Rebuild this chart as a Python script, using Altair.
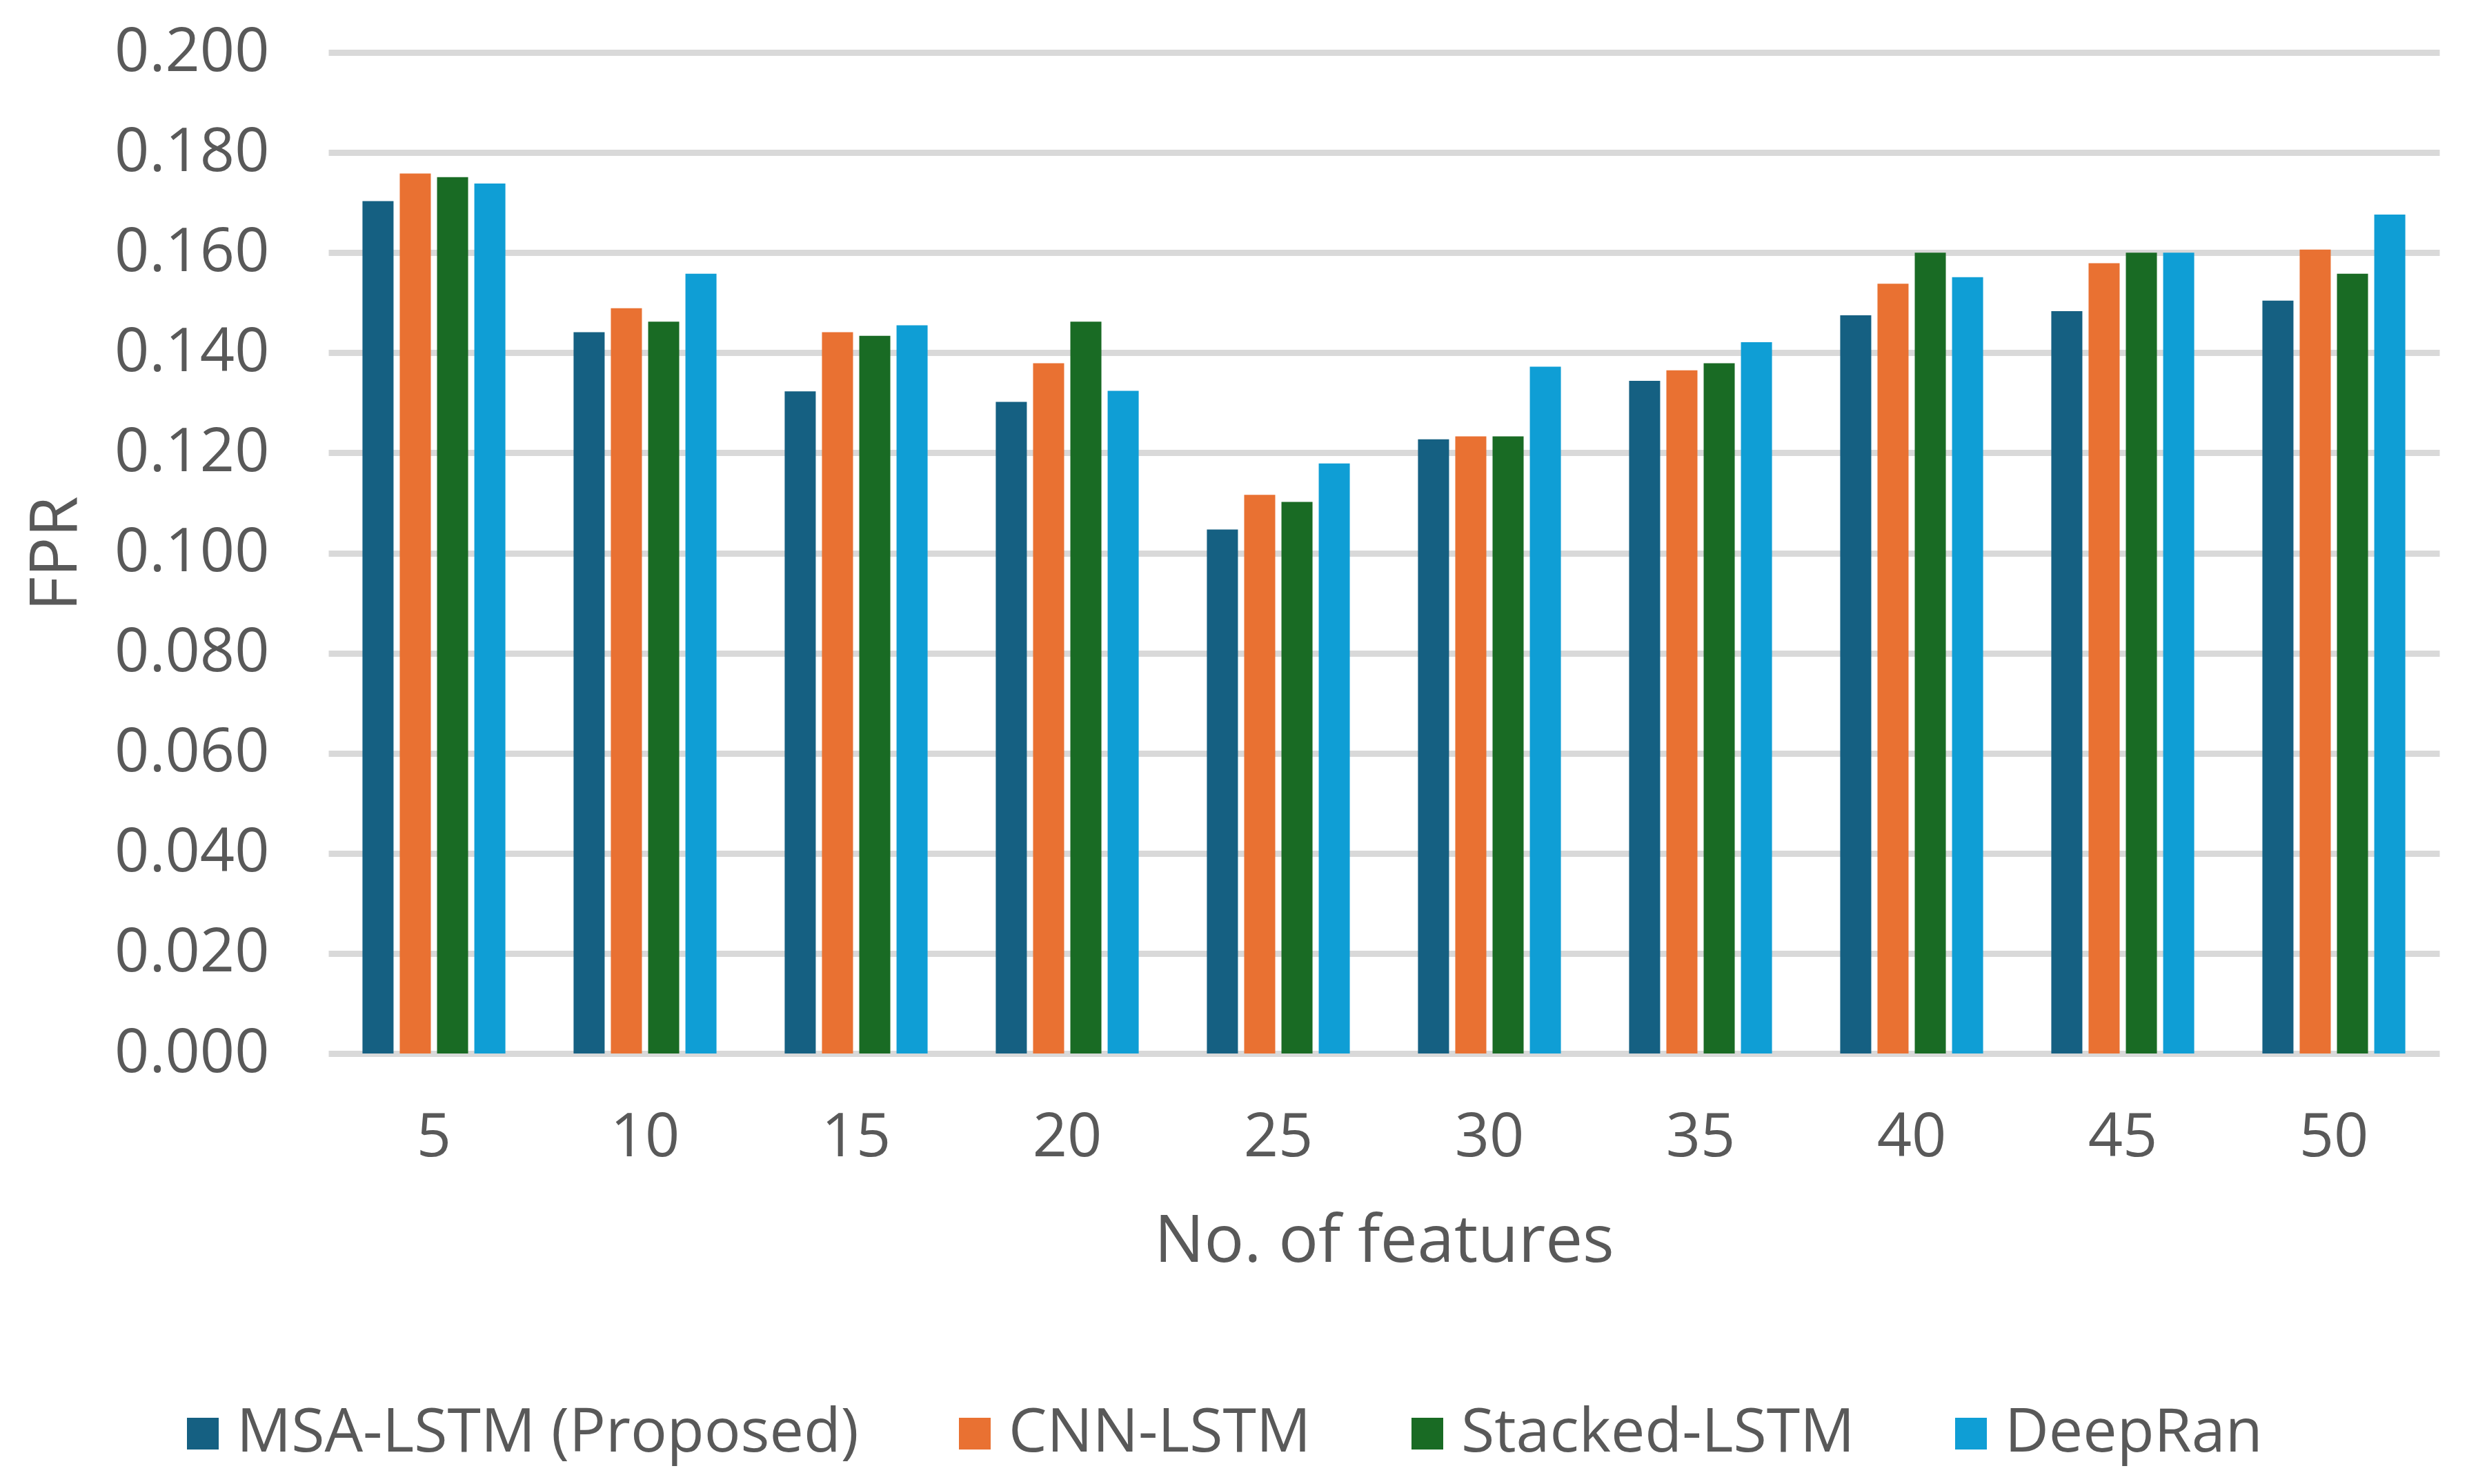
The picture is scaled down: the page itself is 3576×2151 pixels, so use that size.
import altair as alt
import pandas as pd

features = ["5", "10", "15", "20", "25", "30", "35", "40", "45", "50"]
models = ["MSA-LSTM (Proposed)", "CNN-LSTM", "Stacked-LSTM", "DeepRan"]
colors = ["#156082", "#E97132", "#196B24", "#0F9ED5"]

msa = [0.1703, 0.1441, 0.1323, 0.1302, 0.1047, 0.1227, 0.1344, 0.1475, 0.1483, 0.1504]
cnn = [0.1758, 0.1489, 0.1441, 0.1379, 0.1116, 0.1233, 0.1365, 0.1538, 0.1579, 0.1606]
stacked = [0.1751, 0.1462, 0.1434, 0.1462, 0.1102, 0.1233, 0.1379, 0.1600, 0.1600, 0.1558]
deepran = [0.1738, 0.1558, 0.1455, 0.1324, 0.1179, 0.1372, 0.1421, 0.1551, 0.1600, 0.1676]

y_ticks = [0.0, 0.02, 0.04, 0.06, 0.08, 0.10, 0.12, 0.14, 0.16, 0.18, 0.20]

rows = []
for name, vals in zip(models, [msa, cnn, stacked, deepran]):
    for f, v in zip(features, vals):
        rows.append({"features": f, "model": name, "FPR": v})
df = pd.DataFrame(rows)

FONT = "Open Sans"
TXT = "#595959"

chart = alt.Chart(df).mark_bar().encode(
    x=alt.X(
        "features:N",
        sort=features,
        scale=alt.Scale(paddingInner=0.323, paddingOuter=0.1615),
        axis=alt.Axis(
            title="No. of features",
            labelAngle=0,
            ticks=False,
            tickSize=0,
            domain=False,
            grid=False,
            labelPadding=78,
            labelFontSize=88,
            labelFont=FONT,
            labelColor=TXT,
            titleFont=FONT,
            titleFontSize=96,
            titleFontWeight="normal",
            titleColor=TXT,
            titleBaseline="alphabetic",
            titleY=301,
        ),
    ),
    xOffset=alt.XOffset("model:N", sort=models,
                        scale=alt.Scale(paddingInner=0.167, paddingOuter=0)),
    y=alt.Y(
        "FPR:Q",
        scale=alt.Scale(domain=[0, 0.2], nice=False),
        axis=alt.Axis(
            title="FPR",
            values=y_ticks,
            format=".3f",
            grid=True,
            gridColor="#D9D9D9",
            gridWidth=9,
            domain=False,
            ticks=False,
            tickSize=0,
            labelPadding=86,
            labelFontSize=88,
            labelFont=FONT,
            labelColor=TXT,
            labelLimit=1000,
            titleFont=FONT,
            titleFontSize=96,
            titleFontWeight="normal",
            titleColor=TXT,
            titleAngle=270,
            titleBaseline="alphabetic",
            titleX=-366,
            titleY=726,
        ),
    ),
    color=alt.Color(
        "model:N",
        sort=models,
        scale=alt.Scale(domain=models, range=colors),
        legend=alt.Legend(
            title=None,
            orient="none",
            direction="horizontal",
            legendX=-226,
            legendY=1958,
            padding=0,
            symbolType="square",
            symbolSize=2116,
            symbolStrokeWidth=0,
            labelFont=FONT,
            labelFontSize=88,
            labelColor=TXT,
            labelOffset=5,
            columnPadding=124,
            labelLimit=2000,
        ),
    ),
).properties(
    width=3060,
    height=1451,
    autosize=alt.AutoSizeParams(type="none"),
    padding={"left": 468, "top": 68, "right": 32, "bottom": 620},
    background="white",
).configure_view(stroke=None)

chart.save("out.html", embed_options={"renderer": "svg", "actions": False})
